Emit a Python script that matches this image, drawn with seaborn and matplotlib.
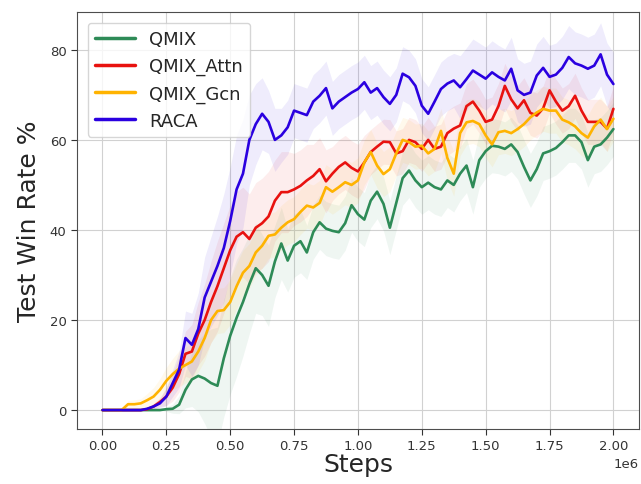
import numpy as np
import pandas as pd
import matplotlib
matplotlib.use("Agg")
import matplotlib.pyplot as plt
import seaborn as sns

steps = np.arange(81) * 0.025e6

qmix = [0, 0, 0, 0, 0, 0, 0, 0, 0, 0, 0.2, 0.3, 1.2, 4.5, 6.8, 7.6, 7, 6, 5.4, 11.5,
        16.5, 20.5, 24, 28, 31.5, 30, 27.6, 33, 37, 33.2, 36.5, 37.5, 35, 39.5, 41.7, 40.3, 39.8, 39.5, 41.5, 45.5,
        43.5, 42.3, 46.5, 48.5, 45.8, 40.5, 46, 51.5, 53.2, 51, 49.5, 50.5, 49.5, 49, 51, 50, 52.5, 54.3, 49.5, 55.5,
        57.5, 58.7, 58.5, 58, 59, 57.3, 54, 51, 53.5, 57, 57.5, 58.2, 59.5, 61, 61, 59.5, 55.5, 58.5, 59, 60.5, 62.4]
qmix_attn = [0, 0, 0, 0, 0, 0, 0, 0.2, 0.8, 1.8, 3, 5, 8, 12.5, 13, 17, 20, 24, 27.5, 31.5,
             35.5, 38.5, 39.5, 38, 40.5, 41.5, 43, 46.5, 48.4, 48.4, 49, 49.8, 51, 52, 53.5, 50.8, 52.5, 54, 55, 53.8,
             53, 55, 57.3, 58.5, 59.6, 59.5, 57, 57.5, 60, 59.5, 58, 60, 58, 58.5, 61.5, 62.5, 63.2, 67.5, 68.5, 66.5,
             64, 64.5, 67.5, 72, 69, 67, 68.8, 66, 65.4, 67, 71, 68.5, 66.5, 67.5, 69.8, 66.5, 64, 64, 64, 62.5, 66.9]
qmix_gcn = [0, 0, 0, 0, 1.3, 1.3, 1.5, 2.2, 3, 4.5, 6.5, 8, 9.2, 10, 10.8, 13, 16, 20, 22, 22.2,
            24, 27.5, 30.5, 32, 35, 36.5, 38.7, 39, 40.5, 41.7, 42.4, 44, 45.4, 45, 46, 49.5, 48.5, 49.5, 50.6, 50,
            51, 55, 57.3, 54.3, 52.4, 53.5, 57, 60, 59.5, 58.5, 58.7, 57, 58, 62, 56, 52.5, 61.5, 63.9, 64.2, 63.5,
            61, 59, 61.7, 62, 61.5, 62.4, 63.5, 65, 66.1, 66.9, 66.5, 66.5, 64.5, 63.9, 63, 61.5, 60.5, 63, 64.5, 62.4, 64.7]
raca = [0, 0, 0, 0, 0, 0, 0, 0.3, 0.8, 1.5, 3, 6, 9, 16, 14.5, 18, 25, 28.5, 32, 36,
        42, 49, 52.5, 60, 63.5, 65.8, 64, 60, 61, 62.8, 66.5, 66, 65.5, 68.5, 69.8, 71.5, 67, 68.5, 69.5, 70.5,
        71.3, 72.8, 70.5, 71.5, 69.5, 68, 70, 74.7, 73.9, 72, 67.6, 65.8, 68.5, 71.3, 72.5, 73.2, 71.7, 73.5, 75.4, 74.5,
        73.6, 75, 74, 73.2, 75.8, 71, 70, 70.5, 74.3, 76, 74, 74.5, 76, 78.4, 77, 76.5, 75.8, 76.5, 79, 74.5, 72.4]

qmix_sd = [0, 0, 0, 0, 0, 0, 0, 0, 0, 0, 0.5, 1, 2, 4, 6, 8, 10, 12, 13, 13,
           13, 13, 12, 11, 10, 9, 9, 8, 8, 7, 7, 7, 6, 6, 6, 6, 6, 6, 6, 6,
           6, 6, 6, 6, 6, 6, 6, 6, 6, 6, 6, 6, 6, 6, 6, 6, 6, 6, 6, 6,
           6, 6, 6, 6, 6, 6, 6, 6, 6, 6, 6, 6, 6, 6, 6, 6, 6, 6, 6, 6, 6]
attn_sd = [0, 0, 0, 0, 0, 0, 0, 0.3, 0.6, 1, 2, 3, 4, 5, 6, 7, 8, 9, 10, 10,
           10, 10, 10, 10, 10, 10, 10, 9, 9, 9, 8, 8, 8, 7, 7, 7, 6, 6, 6, 6,
           6, 6, 5, 5, 5, 5, 5, 5, 5, 5, 5, 5, 5, 5, 5, 5, 5, 5, 5, 5,
           5, 5, 5, 5, 5, 5, 5, 5, 5, 5, 5, 5, 5, 5, 5, 5, 5, 5, 5, 5, 5]
gcn_sd = [0, 0, 0, 0, 0.8, 1, 1, 1.5, 2, 2.5, 3, 3.5, 4, 4, 4, 4.5, 5, 5, 5, 5,
          5, 5, 5, 5, 5, 5, 5, 5, 5, 5, 5, 5, 5, 5, 5, 5, 5, 5, 5, 5,
          5, 5, 5, 5, 5, 5, 5, 5, 5, 5, 5, 5, 5, 5, 5, 5, 5, 5, 5, 5,
          5, 5, 5, 5, 5, 5, 5, 5, 5, 5, 5, 5, 5, 5, 5, 5, 5, 5, 5, 5, 5]
raca_sd = [0, 0, 0, 0, 0, 0, 0, 0.3, 0.6, 1, 2, 3, 4, 6, 7, 8, 9, 10, 11, 12,
           12, 12, 12, 10, 9, 8, 7, 7, 6, 6, 6, 6, 6, 6, 6, 6, 6, 6, 6, 6,
           6, 6, 6, 6, 6, 6, 6, 6, 6, 6, 6, 6, 6, 6, 6, 6, 7, 7, 7, 7,
           7, 7, 7, 7, 7, 7, 7, 7, 7, 7, 7, 7, 7, 7, 7, 7, 7, 7, 7, 7, 7]

names = ["QMIX", "QMIX_Attn", "QMIX_Gcn", "RACA"]
colors = ["#2e8b57", "#e8120f", "#ffb300", "#2a00e0"]
means = [qmix, qmix_attn, qmix_gcn, raca]
sds = [qmix_sd, attn_sd, gcn_sd, raca_sd]

df = pd.concat([pd.DataFrame({"Steps": steps, "value": m, "method": n})
                for m, n in zip(means, names)], ignore_index=True)

sns.set_style("whitegrid")
plt.rcParams.update({
    "axes.edgecolor": "0.3",
    "xtick.bottom": True, "ytick.left": True,
    "xtick.color": "0.2", "ytick.color": "0.2",
    "xtick.major.size": 4, "ytick.major.size": 4,
    "grid.color": "0.82",
})
plt.rcParams["font.family"] = ["DejaVu Sans"]

fig = plt.figure(figsize=(6.41, 4.85), dpi=100)
ax = fig.add_axes([0.120, 0.1134, 0.8768, 0.8598])

for m, s, c in zip(means, sds, colors):
    m = np.array(m); s = np.array(s)
    ax.fill_between(steps, m - s, m + s, color=c, alpha=0.075, linewidth=0)

sns.lineplot(data=df, x="Steps", y="value", hue="method", hue_order=names,
             palette=dict(zip(names, colors)), linewidth=1.9, ax=ax)

ax.set_xlim(-0.1e6, 2.1e6)
ax.set_ylim(-4.2, 88.4)
ax.set_xticks(np.arange(0, 2.01e6, 0.25e6))
ax.set_yticks([0, 20, 40, 60, 80])
ax.tick_params(labelsize=9.5)
ax.xaxis.get_offset_text().set_fontsize(9.5)
ax.set_xlabel("Steps", fontsize=18, labelpad=0)
ax.set_ylabel("Test Win Rate %", fontsize=18, labelpad=6)
leg = ax.legend(loc="upper left", fontsize=13, frameon=True, handlelength=2.2,
                borderaxespad=0.6)
for line in leg.get_lines():
    line.set_linewidth(2.5)
fig.savefig("out.png", dpi=100)
